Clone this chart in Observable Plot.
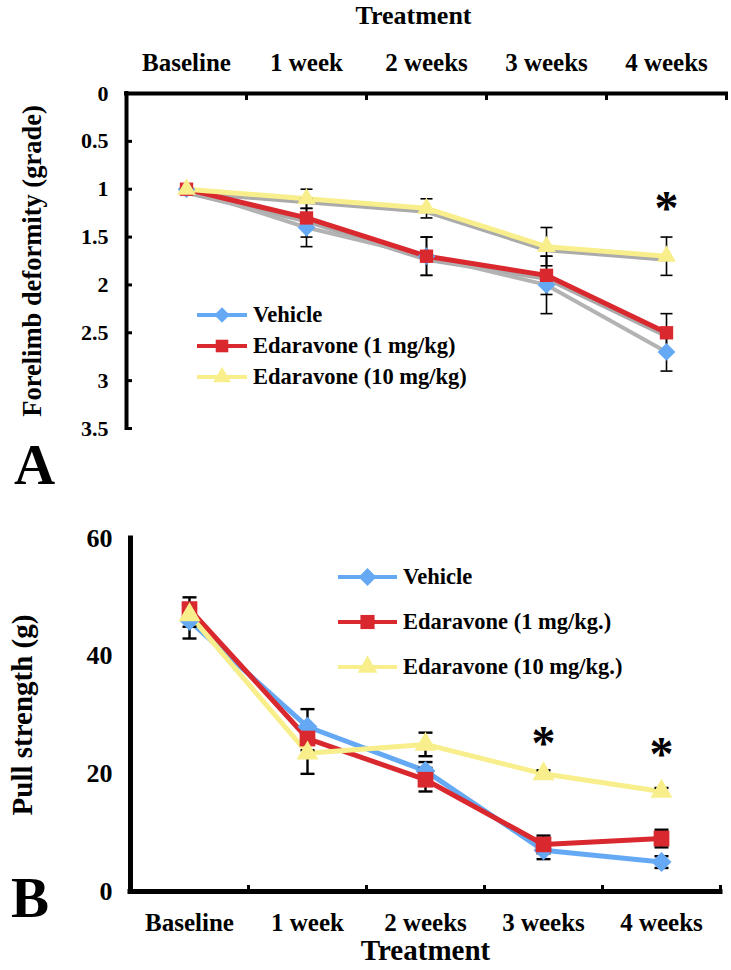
<!DOCTYPE html>
<html><head><meta charset="utf-8">
<script src="https://cdn.jsdelivr.net/npm/d3@7"></script>
<script src="https://cdn.jsdelivr.net/npm/@observablehq/plot@0.6"></script>
<style>
body{margin:0;background:#fff;width:731px;height:970px;position:relative;overflow:hidden;font-family:"Liberation Serif","Times New Roman",serif;font-weight:bold;color:#000;}
.panel{position:absolute;left:0;}
.plabel{position:absolute;font-size:57px;font-weight:bold;line-height:1;}
.row{position:absolute;display:flex;align-items:center;white-space:nowrap;}
</style></head><body>
<div id="A" class="panel" style="top:0"></div>
<div id="B" class="panel" style="top:470px"></div>
<div class="plabel" style="left:14px;top:436px">A</div>
<div class="plabel" style="left:11px;top:869px">B</div>
<div id="legA"></div>
<div id="legB"></div>
<script>
// ---------- data ----------
const categories = ["Baseline", "1 week", "2 weeks", "3 weeks", "4 weeks"];
const seriesA = ["Vehicle", "Edaravone (1 mg/kg)", "Edaravone (10 mg/kg)"];
const seriesB = ["Vehicle", "Edaravone (1 mg/kg.)", "Edaravone (10 mg/kg.)"];
const colors = ["#65a9f4", "#d9282e", "#f8ef8c"];
const shadowColor = "#ababab";

// Panel A: forelimb deformity (grade), mean and error
const deformityVehicle = [1.0, 1.4, 1.7, 2.0, 2.7];
const deformityVehicleErr = [0, 0.2, 0.2, 0.3, 0.2];
const deformityEda1 = [1.0, 1.3, 1.7, 1.9, 2.5];
const deformityEda1Err = [0, 0.2, 0.2, 0.2, 0.2];
const deformityEda10 = [1.0, 1.1, 1.2, 1.6, 1.7];
const deformityEda10Err = [0, 0.1, 0.1, 0.2, 0.2];
const ticksA = [0, 0.5, 1, 1.5, 2, 2.5, 3, 3.5];
const starsA_cat = ["4 weeks"];
const starsA_y = [1.2];

// Panel B: pull strength (g), mean and error
const pullVehicle = [46, 28, 20.5, 7, 5];
const pullVehicleErr = [3, 3, 1.5, 1.5, 1];
const pullEda1 = [48, 26, 19, 8, 9];
const pullEda1Err = [2, 2, 2, 1.5, 1.5];
const pullEda10 = [47, 23.5, 25, 20, 17];
const pullEda10Err = [2, 3.5, 2, 0.6, 0.6];
const ticksB = [0, 20, 40, 60];
const starsB_cat = ["3 weeks", "4 weeks"];
const starsB_y = [25.2, 23.2];

// ---------- helpers ----------
function rows(names, values, errs) {
  const out = [];
  names.forEach((s, k) => values[k].forEach((v, i) => out.push({series: s, k, i, value: v, err: errs[k][i]})));
  return out;
}
const dataA = rows(seriesA, [deformityVehicle, deformityEda1, deformityEda10], [deformityVehicleErr, deformityEda1Err, deformityEda10Err]);
const dataB = rows(seriesB, [pullVehicle, pullEda1, pullEda10], [pullVehicleErr, pullEda1Err, pullEda10Err]);
const catIndex = categories.map((_, i) => i);
const boundaries = categories.map((_, i) => i + 0.5);
const plotSymbols = ["diamond2", "square2", "triangle2"];
const d3Symbols = [d3.symbolDiamond2, d3.symbolSquare2, d3.symbolTriangle2];
const capSymbol = {draw(ctx, size) { const w = Math.sqrt(size / Math.PI); ctx.moveTo(-w, 0); ctx.lineTo(w, 0); }};
const caps = data => data.filter(d => d.err > 0).flatMap(d => [{...d, y: d.value - d.err}, {...d, y: d.value + d.err}]);
const font = "'Liberation Serif','Times New Roman',serif";

function seriesMarks(data, names, o) {
  const marks = [];
  if (o.shadow) marks.push(Plot.line(data.filter(d => d.k > 0), {x: "i", y: "value", z: "series", stroke: shadowColor, strokeWidth: o.lw, dy: 3}));
  names.forEach((s, k) => marks.push(Plot.line(data.filter(d => d.k === k), {x: "i", y: "value", stroke: (o.lineColors || colors)[k], strokeWidth: (o.lineWidths || [o.lw, o.lw, o.lw])[k]})));
  marks.push(Plot.ruleX(data.filter(d => d.err > 0), {x: "i", y1: d => d.value - d.err, y2: d => d.value + d.err, stroke: "black", strokeWidth: o.ew}));
  marks.push(Plot.dot(caps(data), {x: "i", y: "y", symbol: capSymbol, r: o.cap, stroke: "black", strokeWidth: o.ew, fill: "none"}));
  names.forEach((s, k) => marks.push(Plot.dot(data.filter(d => d.k === k), {x: "i", y: "value", symbol: plotSymbols[k], fill: colors[k], r: o.r[k]})));
  return marks;
}

// ---------- Panel A ----------
const plotA = Plot.plot({
  width: 731, height: 470,
  marginLeft: 126, marginRight: 5, marginTop: 93, marginBottom: 42,
  style: {fontFamily: font, fontWeight: "bold", fontSize: "22px", background: "transparent", color: "black"},
  x: {domain: [-0.5, 4.5], axis: null},
  y: {domain: [0, 3.5], reverse: true, axis: null},
  marks: [
    Plot.axisY({ticks: ticksA, tickSize: 0, tickPadding: 18, tickFormat: d => String(d), fontSize: 22, label: null}),
    Plot.axisY({ticks: ticksA, tickSize: 6, dx: 6, tickFormat: () => "", strokeWidth: 3, label: null}),
    Plot.axisX({anchor: "top", ticks: catIndex, tickFormat: i => categories[i], tickSize: 0, tickPadding: 23, fontSize: 25, label: null}),
    Plot.axisX({anchor: "top", ticks: boundaries, tickSize: 6, dy: 6, tickFormat: () => "", strokeWidth: 3, label: null}),
    Plot.text(["Treatment"], {text: d => d, frameAnchor: "top", lineAnchor: "middle", textAnchor: "middle", dy: -78, dx: -13, fontSize: 26}),
    Plot.text(["Forelimb deformity (grade)"], {text: d => d, frameAnchor: "left", textAnchor: "middle", lineAnchor: "middle", rotate: -90, dx: -94, fontSize: 26.5}),
    ...seriesMarks(dataA, seriesA, {lw: 5, ew: 1.6, cap: 6, r: [8, 8.5, 9], shadow: true, lineColors: ["#b3b3b3", colors[1], colors[2]], lineWidths: [4, 5, 5]}),
    Plot.ruleX([-0.5], {strokeWidth: 4, strokeLinecap: "square"}),
    Plot.ruleY([0], {strokeWidth: 4, strokeLinecap: "square"}),
    Plot.text(starsA_cat, {x: d => categories.indexOf(d), y: (d, j) => starsA_y[j], text: () => "*", fontSize: 48})
  ]
});
document.getElementById("A").append(plotA);

// ---------- Panel B ----------
const plotB = Plot.plot({
  width: 731, height: 500,
  marginLeft: 130, marginRight: 11, marginTop: 68, marginBottom: 79,
  style: {fontFamily: font, fontWeight: "bold", fontSize: "25px", background: "transparent", color: "black"},
  x: {domain: [-0.5, 4.5], axis: null},
  y: {domain: [0, 60], axis: null},
  marks: [
    Plot.axisY({ticks: ticksB, tickSize: 0, tickPadding: 18, fontSize: 26, label: null}),
    Plot.axisX({anchor: "bottom", ticks: catIndex, tickFormat: i => categories[i], tickSize: 0, tickPadding: 22, fontSize: 25, label: null}),
    Plot.axisX({anchor: "bottom", ticks: boundaries, tickSize: 6, dy: -6, tickFormat: () => "", strokeWidth: 3, label: null}),
    Plot.text(["Treatment"], {text: d => d, frameAnchor: "bottom", lineAnchor: "middle", textAnchor: "middle", dy: 59, fontSize: 29}),
    Plot.text(["Pull strength (g)"], {text: d => d, frameAnchor: "left", textAnchor: "middle", lineAnchor: "middle", rotate: -90, dx: -108, fontSize: 29}),
    ...seriesMarks(dataB, seriesB, {lw: 5, ew: 2.4, cap: 7, r: [9, 10, 10.5], shadow: false}),
    Plot.ruleX([-0.5], {strokeWidth: 5, strokeLinecap: "square"}),
    Plot.ruleY([0], {strokeWidth: 5, strokeLinecap: "square"}),
    Plot.text(starsB_cat, {x: d => categories.indexOf(d), y: (d, j) => starsB_y[j], text: () => "*", fontSize: 48})
  ]
});
document.getElementById("B").append(plotB);

// ---------- legends ----------
function legend(id, names, o) {
  const host = document.getElementById(id);
  names.forEach((name, k) => {
    const row = document.createElement("div");
    row.className = "row";
    row.style.left = o.left + "px";
    row.style.top = (o.top + k * o.gap - o.h / 2) + "px";
    row.style.height = o.h + "px";
    const svg = d3.create("svg").attr("width", o.lineW).attr("height", o.h);
    svg.append("line").attr("x1", 0).attr("x2", o.lineW).attr("y1", o.h / 2).attr("y2", o.h / 2)
      .attr("stroke", colors[k]).attr("stroke-width", o.sw);
    svg.append("path").attr("d", d3.symbol(d3Symbols[k], Math.PI * o.r[k] * o.r[k])())
      .attr("transform", `translate(${o.lineW / 2},${o.h / 2})`).attr("fill", colors[k]);
    row.append(svg.node());
    const t = document.createElement("span");
    t.textContent = name;
    t.style.marginLeft = o.textGap + "px";
    t.style.fontSize = o.fs + "px";
    row.append(t);
    host.append(row);
  });
}
legend("legA", seriesA, {left: 197, top: 315, gap: 31, h: 26, lineW: 50, sw: 4, r: [7, 8, 8.5], textGap: 6, fs: 22.5});
legend("legB", seriesB, {left: 338, top: 577, gap: 45, h: 28, lineW: 59, sw: 4, r: [8, 9, 9.5], textGap: 6, fs: 22.5});
</script>
</body></html>
